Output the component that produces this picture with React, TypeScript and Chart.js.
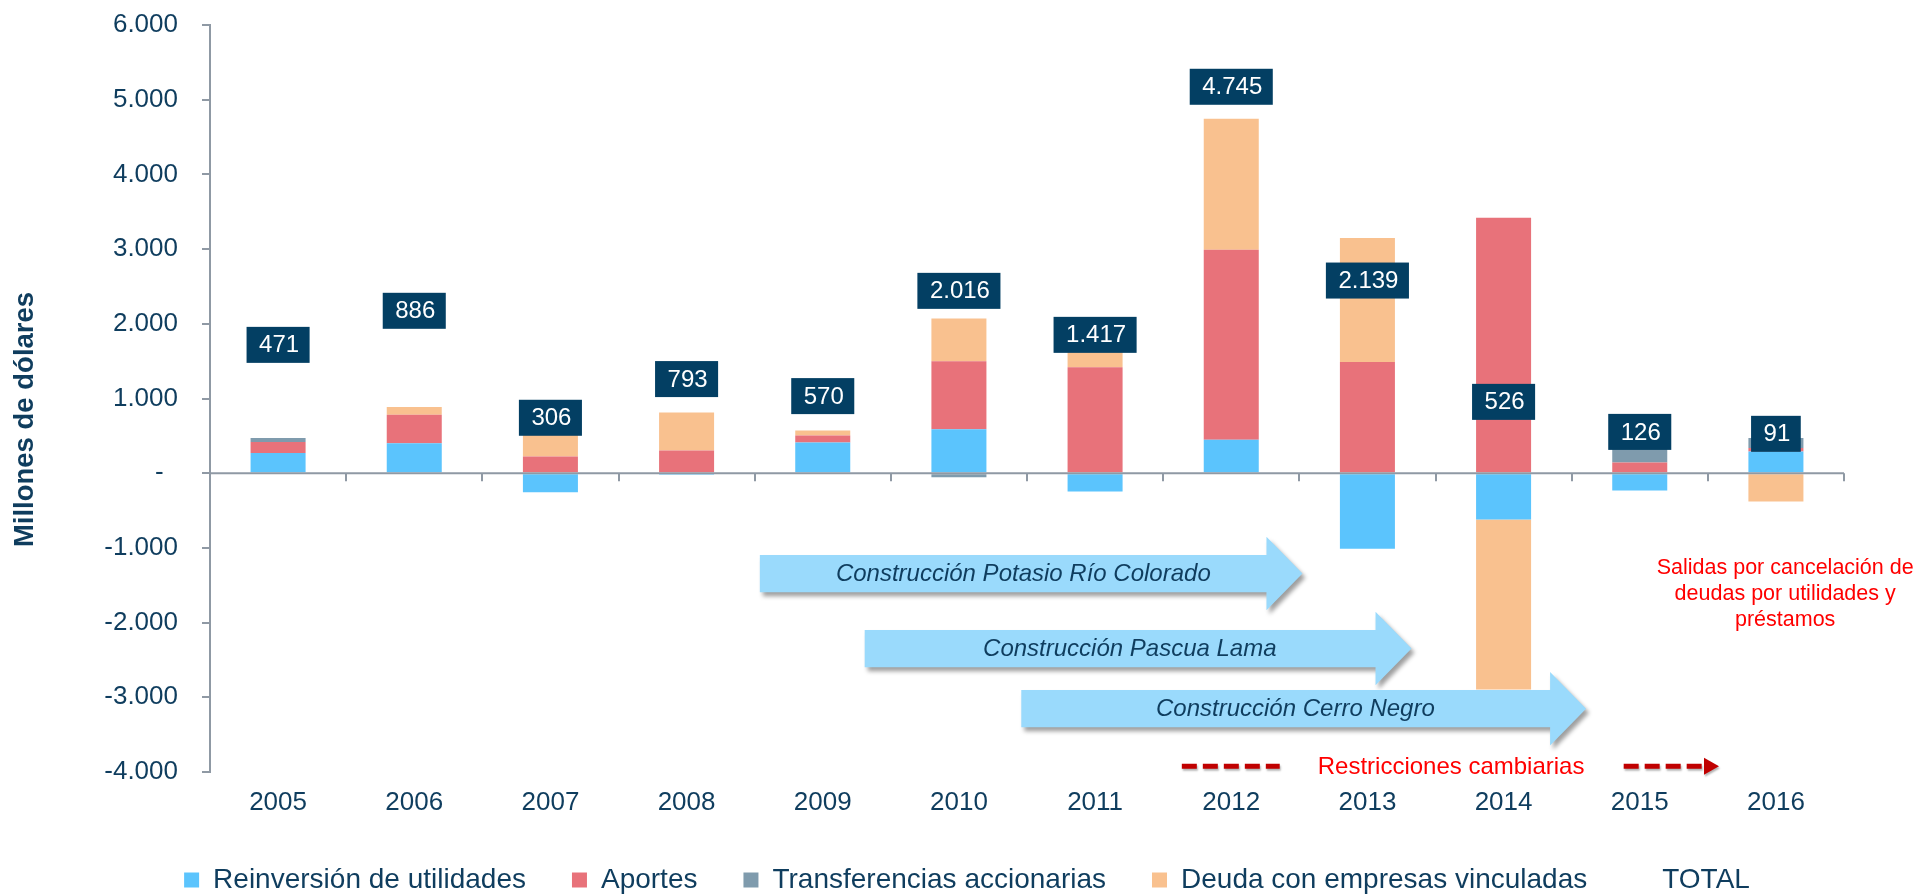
import React, { useEffect, useRef } from 'react';
import { Chart, registerables } from 'chart.js';

Chart.register(...registerables);

const FONT = '"Liberation Sans", Arial, Helvetica, sans-serif';
const NAVY_TEXT = '#0f3d5e';
const AXIS_GRAY = '#8f99a4';
const LABEL_BG = '#033f63';
const ARROW_FILL = '#9adafc';
const RED_TEXT = '#ff0000';
const RED_DASH = '#c00000';

// ---- data ----
const years = ['2005', '2006', '2007', '2008', '2009', '2010', '2011', '2012', '2013', '2014', '2015', '2016'];
const reinversion = [272, 402, -254, -20, 411, 590, -246, 447, -1010, -620, -232, 292];
const aportes = [147, 381, 224, 304, 94, 910, 1419, 2543, 1488, 3420, 143, 45];
const transferencias = [52, 0, 0, 0, 0, -54, 0, 0, 0, 0, 215, 134];
const deuda = [0, 103, 336, 509, 65, 570, 244, 1755, 1661, -2274, 0, -380];
const totals = [471, 886, 306, 793, 570, 2016, 1417, 4745, 2139, 526, 126, 91];
// where each TOTAL data label sits (in millions, on the value axis)
const totalLabelAt = [1718, 2174, 742, 1260, 1032, 2441, 1852, 5173, 2579, 955, 553, 527];

const seriesNames = [
  'Reinversión de utilidades',
  'Aportes',
  'Transferencias accionarias',
  'Deuda con empresas vinculadas',
  'TOTAL',
];
const seriesColors = ['#5bc4fd', '#e8727a', '#7f9bad', '#f9c18f'];

const yMin = -4000;
const yMax = 6000;
const yStep = 1000;
const yTitle = 'Millones de dólares';

// annotation arrows (category index units / millions)
const arrows = [
  { text: 'Construcción Potasio Río Colorado', from: 3.538, to: 7.523, at: -1344, textAt: 5.473 },
  { text: 'Construcción Pascua Lama', from: 4.308, to: 8.324, at: -2348, textAt: 6.255 },
  { text: 'Construcción Cerro Negro', from: 5.458, to: 9.606, at: -3152, textAt: 7.471 },
];
const restrictionText = 'Restricciones cambiarias';
const restrictionAt = -3922;
const restrictionLeftDash = [6.637, 7.356];
const restrictionTextFrom = 7.635;
const restrictionRightDash = [9.882, 10.582];
const outflowLines = ['Salidas por cancelación de', 'deudas por utilidades y', 'préstamos'];
const outflowX = 11.068;
const outflowAt = -1272;

const fmt = (v: number) => {
  const s = Math.abs(Math.round(v)).toString().replace(/\B(?=(\d{3})+(?!\d))/g, '.');
  return (v < 0 ? '-' : '') + s;
};

const overlay = {
  id: 'overlay',
  afterDatasetsDraw(chart: any) {
    const { ctx, chartArea: ca, scales } = chart;
    const xs = scales.x;
    const ys = scales.y;
    const px = (i: number) => xs.getPixelForValue(i);
    const py = (v: number) => ys.getPixelForValue(v);
    ctx.save();

    // zero axis line with category tick marks
    const y0 = py(0);
    ctx.strokeStyle = AXIS_GRAY;
    ctx.lineWidth = 2;
    ctx.beginPath();
    ctx.moveTo(ca.left, y0);
    ctx.lineTo(ca.right, y0);
    ctx.stroke();
    ctx.beginPath();
    for (let k = 1; k <= years.length; k++) {
      const xx = Math.round(px(k - 0.5));
      ctx.moveTo(xx, y0);
      ctx.lineTo(xx, y0 + 8);
    }
    ctx.stroke();

    // arrows
    const bodyH = 37.3;
    const headH = 73.5;
    const headL = 36;
    arrows.forEach((a) => {
      const x0 = px(a.from);
      const tip = px(a.to);
      const yc = py(a.at);
      ctx.save();
      ctx.shadowColor = 'rgba(0,0,0,0.38)';
      ctx.shadowBlur = 4;
      ctx.shadowOffsetX = 3;
      ctx.shadowOffsetY = 4;
      ctx.fillStyle = ARROW_FILL;
      ctx.beginPath();
      ctx.moveTo(x0, yc - bodyH / 2);
      ctx.lineTo(tip - headL, yc - bodyH / 2);
      ctx.lineTo(tip - headL, yc - headH / 2);
      ctx.lineTo(tip, yc);
      ctx.lineTo(tip - headL, yc + headH / 2);
      ctx.lineTo(tip - headL, yc + bodyH / 2);
      ctx.lineTo(x0, yc + bodyH / 2);
      ctx.closePath();
      ctx.fill();
      ctx.restore();
      ctx.fillStyle = NAVY_TEXT;
      ctx.font = `italic 24px ${FONT}`;
      ctx.textAlign = 'center';
      ctx.textBaseline = 'middle';
      ctx.fillText(a.text, px(a.textAt), yc + 1);
    });

    // TOTAL labels
    ctx.font = `24px ${FONT}`;
    ctx.textAlign = 'center';
    ctx.textBaseline = 'middle';
    totals.forEach((t, i) => {
      const txt = fmt(t);
      const w = ctx.measureText(txt).width + 23;
      const cx = px(i);
      const cy = py(totalLabelAt[i]);
      ctx.fillStyle = LABEL_BG;
      ctx.fillRect(cx - w / 2, cy - 18, w, 36);
      ctx.fillStyle = '#ffffff';
      ctx.fillText(txt, cx + 1, cy + 1);
    });

    // exchange restrictions
    const ry = py(restrictionAt);
    ctx.save();
    ctx.shadowColor = 'rgba(0,0,0,0.3)';
    ctx.shadowBlur = 2;
    ctx.shadowOffsetX = 1;
    ctx.shadowOffsetY = 2;
    ctx.strokeStyle = RED_DASH;
    ctx.lineWidth = 5;
    ctx.setLineDash([15, 6]);
    ctx.beginPath();
    ctx.moveTo(px(restrictionLeftDash[0]), ry);
    ctx.lineTo(px(restrictionLeftDash[1]), ry);
    ctx.stroke();
    const rTip = px(restrictionRightDash[1]);
    const rHead = rTip - 15;
    ctx.beginPath();
    ctx.moveTo(px(restrictionRightDash[0]), ry);
    ctx.lineTo(rHead - 1, ry);
    ctx.stroke();
    ctx.setLineDash([]);
    ctx.fillStyle = RED_DASH;
    ctx.beginPath();
    ctx.moveTo(rHead, ry - 8.5);
    ctx.lineTo(rTip, ry);
    ctx.lineTo(rHead, ry + 8.5);
    ctx.closePath();
    ctx.fill();
    ctx.restore();
    ctx.fillStyle = RED_TEXT;
    ctx.font = `24px ${FONT}`;
    ctx.textAlign = 'left';
    ctx.textBaseline = 'middle';
    ctx.fillText(restrictionText, px(restrictionTextFrom), ry + 1);

    // outflow note
    ctx.font = `21.5px ${FONT}`;
    ctx.textAlign = 'center';
    const oy = py(outflowAt);
    outflowLines.forEach((line, k) => {
      ctx.fillText(line, px(outflowX), oy + k * 26);
    });

    // y axis title
    ctx.save();
    ctx.translate(33, (ca.top + ca.bottom) / 2 + 21);
    ctx.rotate(-Math.PI / 2);
    ctx.fillStyle = NAVY_TEXT;
    ctx.font = `bold 27.5px ${FONT}`;
    ctx.textAlign = 'center';
    ctx.textBaseline = 'alphabetic';
    ctx.fillText(yTitle, 0, 0);
    ctx.restore();

    ctx.restore();
  },
};

export default function App() {
  const ref = useRef<HTMLCanvasElement>(null);

  useEffect(() => {
    document.body.style.margin = '0';
    document.body.style.overflow = 'hidden';
    const canvas = ref.current;
    if (!canvas) return;

    const barSets = [reinversion, aportes, transferencias, deuda].map((vals, k) => ({
      type: 'bar' as const,
      label: seriesNames[k],
      data: vals,
      backgroundColor: seriesColors[k],
      borderWidth: 0,
      barPercentage: 0.404,
      categoryPercentage: 1,
    }));

    const chart = new Chart(canvas, {
      type: 'bar',
      data: {
        labels: years,
        datasets: [
          ...barSets,
          {
            type: 'line' as const,
            label: seriesNames[4],
            data: totals,
            showLine: false,
            pointRadius: 0,
            borderColor: 'rgba(0,0,0,0)',
            backgroundColor: 'rgba(0,0,0,0)',
            borderWidth: 0,
          },
        ] as any,
      },
      options: {
        responsive: false,
        maintainAspectRatio: false,
        animation: false,
        devicePixelRatio: 1,
        layout: { padding: { left: 90, right: 73, top: 25, bottom: 0 } },
        scales: {
          x: {
            stacked: true,
            grid: { display: false, drawTicks: false },
            border: { display: false },
            ticks: {
              color: NAVY_TEXT,
              font: { family: FONT, size: 26 },
              padding: 15.5,
              maxRotation: 0,
            },
            afterFit: (s: any) => {
              s.height = 48;
            },
          },
          y: {
            stacked: true,
            min: yMin,
            max: yMax,
            grid: {
              drawOnChartArea: false,
              color: AXIS_GRAY,
              lineWidth: 2,
              tickLength: 8,
            },
            border: { display: true, color: AXIS_GRAY, width: 2 },
            ticks: {
              stepSize: yStep,
              color: NAVY_TEXT,
              font: { family: FONT, size: 26 },
              padding: 24,
              callback: (v: any) => (Number(v) === 0 ? '-  ' : fmt(Number(v))),
            },
            afterFit: (s: any) => {
              s.width = 120;
              s.paddingTop = 16;
              s.paddingBottom = 16;
            },
          },
        },
        plugins: {
          legend: {
            position: 'bottom',
            maxHeight: 76,
            labels: {
              color: NAVY_TEXT,
              font: { family: FONT, size: 28 },
              boxWidth: 15,
              boxHeight: 15,
              padding: 46,
            },
          },
          tooltip: { enabled: false },
          title: { display: false },
        },
      } as any,
      plugins: [overlay],
    });

    return () => chart.destroy();
  }, []);

  return (
    <div style={{ width: 1917, height: 896, background: '#ffffff' }}>
      <canvas ref={ref} width={1917} height={896} style={{ display: 'block', width: 1917, height: 896 }} />
    </div>
  );
}
